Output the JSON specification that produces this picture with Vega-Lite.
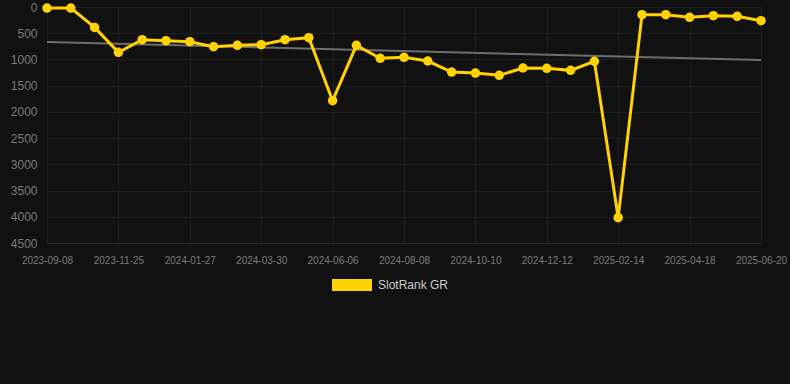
{
  "$schema": "https://vega.github.io/schema/vega-lite/v6.json",
  "width": 714,
  "height": 236,
  "autosize": "none",
  "padding": {"left": 47, "top": 7, "right": 29, "bottom": 141},
  "background": "#111111",
  "config": {
    "view": {"stroke": null},
    "font": "Liberation Sans",
    "axis": {"gridColor": "#1e1e1e", "ticks": false, "domain": false, "labelFont": "Liberation Sans", "labelColor": "#7c7c7c"}
  },
  "datasets": {
    "rank": [
      {"date": "2023-09-08", "rank": 20, "series": "SlotRank GR"},
      {"date": "2023-10-04", "rank": 20, "series": "SlotRank GR"},
      {"date": "2023-10-30", "rank": 390, "series": "SlotRank GR"},
      {"date": "2023-11-25", "rank": 865, "series": "SlotRank GR"},
      {"date": "2023-12-16", "rank": 623, "series": "SlotRank GR"},
      {"date": "2024-01-06", "rank": 642, "series": "SlotRank GR"},
      {"date": "2024-01-27", "rank": 661, "series": "SlotRank GR"},
      {"date": "2024-02-17", "rank": 757, "series": "SlotRank GR"},
      {"date": "2024-03-09", "rank": 731, "series": "SlotRank GR"},
      {"date": "2024-03-30", "rank": 718, "series": "SlotRank GR"},
      {"date": "2024-04-23", "rank": 623, "series": "SlotRank GR"},
      {"date": "2024-05-15", "rank": 585, "series": "SlotRank GR"},
      {"date": "2024-06-06", "rank": 1786, "series": "SlotRank GR"},
      {"date": "2024-06-27", "rank": 731, "series": "SlotRank GR"},
      {"date": "2024-07-18", "rank": 979, "series": "SlotRank GR"},
      {"date": "2024-08-08", "rank": 960, "series": "SlotRank GR"},
      {"date": "2024-08-29", "rank": 1030, "series": "SlotRank GR"},
      {"date": "2024-09-19", "rank": 1240, "series": "SlotRank GR"},
      {"date": "2024-10-10", "rank": 1259, "series": "SlotRank GR"},
      {"date": "2024-10-31", "rank": 1303, "series": "SlotRank GR"},
      {"date": "2024-11-21", "rank": 1163, "series": "SlotRank GR"},
      {"date": "2024-12-12", "rank": 1170, "series": "SlotRank GR"},
      {"date": "2025-01-02", "rank": 1208, "series": "SlotRank GR"},
      {"date": "2025-01-23", "rank": 1036, "series": "SlotRank GR"},
      {"date": "2025-02-14", "rank": 4017, "series": "SlotRank GR"},
      {"date": "2025-03-07", "rank": 146, "series": "SlotRank GR"},
      {"date": "2025-03-28", "rank": 146, "series": "SlotRank GR"},
      {"date": "2025-04-18", "rank": 197, "series": "SlotRank GR"},
      {"date": "2025-05-09", "rank": 165, "series": "SlotRank GR"},
      {"date": "2025-05-30", "rank": 178, "series": "SlotRank GR"},
      {"date": "2025-06-20", "rank": 261, "series": "SlotRank GR"}
    ],
    "trend": [
      {"date": "2023-09-08", "rank": 667},
      {"date": "2025-06-20", "rank": 1011}
    ]
  },
  "encoding": {
    "x": {
      "field": "date",
      "type": "ordinal",
      "scale": {"type": "point", "padding": 0},
      "axis": {
        "title": null,
        "labelAngle": 0,
        "labelFontSize": 10,
        "labelPadding": 12,
        "grid": true,
        "domain": true,
        "domainColor": "#2a2a2a",
        "values": ["2023-09-08", "2023-11-25", "2024-01-27", "2024-03-30", "2024-06-06", "2024-08-08", "2024-10-10", "2024-12-12", "2025-02-14", "2025-04-18", "2025-06-20"]
      }
    },
    "y": {
      "field": "rank",
      "type": "quantitative",
      "scale": {"domain": [0, 4500], "reverse": true, "nice": false, "zero": false},
      "axis": {"title": null, "format": "d", "values": [0, 500, 1000, 1500, 2000, 2500, 3000, 3500, 4000, 4500], "labelFontSize": 12, "labelPadding": 10, "grid": true}
    }
  },
  "layer": [
    {
      "data": {"name": "trend"},
      "mark": {"type": "line", "color": "#6e6e6e", "strokeWidth": 2}
    },
    {
      "data": {"name": "rank"},
      "mark": {"type": "line", "strokeWidth": 3, "point": {"filled": true, "size": 90, "opacity": 1}},
      "encoding": {
        "color": {
          "field": "series",
          "type": "nominal",
          "scale": {"range": ["#FFD200"]},
          "legend": {
            "title": null,
            "orient": "none",
            "legendX": 285,
            "legendY": 258,
            "direction": "horizontal",
            "symbolType": "M-1,-0.3H1V0.3H-1Z",
            "symbolSize": 1600,
            "labelFontSize": 12,
            "labelColor": "#cccccc",
            "labelFont": "Liberation Sans",
            "labelOffset": 6,
            "padding": 0,
            "encode": {"symbols": {"update": {"fill": {"value": "#FFD200"}, "stroke": {"value": "#FFD200"}, "strokeWidth": {"value": 0}, "opacity": {"value": 1}}}}
          }
        }
      }
    }
  ]
}
